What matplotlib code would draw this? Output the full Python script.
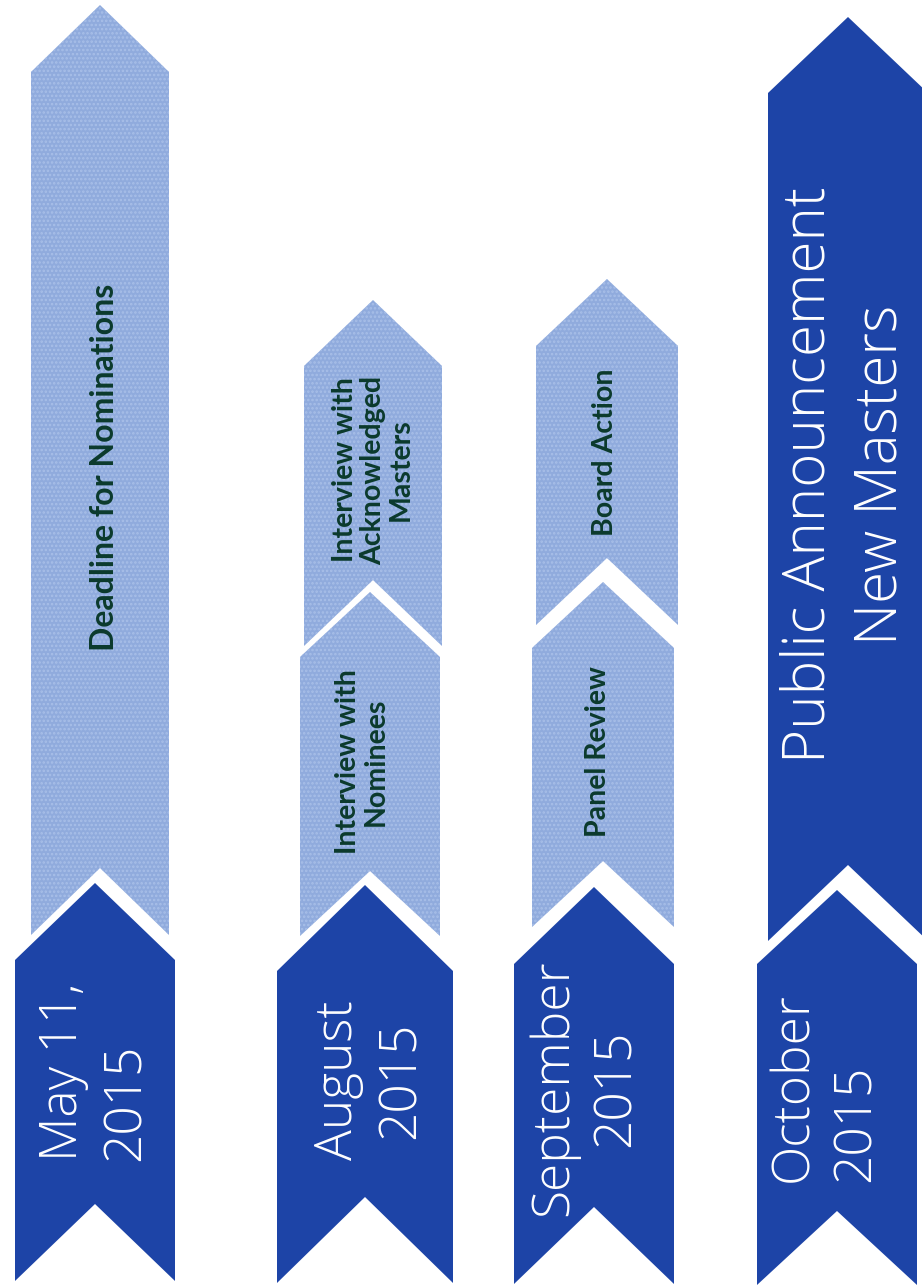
import matplotlib
matplotlib.use("Agg")
import matplotlib.pyplot as plt
from matplotlib.patches import Polygon

# ---- data -------------------------------------------------------------
dates = ["May 11,\n2015", "August\n2015", "September\n2015", "October\n2015"]
date_align = ["left", "center", "center", "left"]
steps_upper = ["Deadline for Nominations",
               "Interview with\nAcknowledged\nMasters",
               "Board Action",
               "Public Announcement\nNew Masters"]
steps_lower = [None, "Interview with\nNominees", "Panel Review", None]

DARK = "#1D44A7"
LIGHT = "#90ABDD"
TEXTURE = "#A8BFE8"
TXT_DARK = "#0B3A2C"

plt.rcParams["hatch.linewidth"] = 1.2

fig = plt.figure(figsize=(9.22, 12.87), dpi=100)
ax = fig.add_axes([0, 0, 1, 1])
ax.set_xlim(0, 922)
ax.set_ylim(1287, 0)
ax.axis("off")


def chevron(xc, hw, top, bottom, depth, color, textured=False):
    """Upward chevron: apex at top, notch at bottom."""
    verts = [(xc, top), (xc + hw, top + depth), (xc + hw, bottom),
             (xc, bottom - depth), (xc - hw, bottom), (xc - hw, top + depth)]
    ax.add_patch(Polygon(verts, closed=True, facecolor=color,
                         edgecolor="none"))
    if textured:
        ax.add_patch(Polygon(verts, closed=True, facecolor="none",
                             edgecolor=TEXTURE, hatch="....", linewidth=0))


# column 1
chevron(100, 69, 5, 935, 67, LIGHT, True)
chevron(95, 80, 883, 1281, 77, DARK)
# column 2
chevron(373, 69, 300, 646, 66, LIGHT, True)
chevron(370, 70, 592, 936, 65, LIGHT, True)
chevron(365, 88, 885, 1283, 86, DARK)
# column 3
chevron(607, 71, 279, 625, 67, LIGHT, True)
chevron(603, 71, 582, 927, 66, LIGHT, True)
chevron(594, 80, 887, 1284, 77, DARK)
# column 4
chevron(848, 80, 17, 941, 76, DARK)
chevron(837, 80, 890, 1285, 74, DARK)

bold_kw = dict(family=["Lato", "DejaVu Sans"], fontweight="bold",
               color=TXT_DARK, rotation=90, ha="center", va="center",
               multialignment="center", linespacing=1.1)
light_kw = dict(family=["Open Sans", "DejaVu Sans"], fontweight="light",
                color="white", rotation=90, ha="center", va="center")

# step texts
ax.text(104, 467, steps_upper[0], fontsize=23, **bold_kw)
ax.text(373, 470, steps_upper[1], fontsize=20.5, **bold_kw)
ax.text(605, 452, steps_upper[2], fontsize=20.5, **bold_kw)
ax.text(845, 475, steps_upper[3], fontsize=42, multialignment="center",
        linespacing=1.3, **light_kw)
ax.text(362, 762, steps_lower[1], fontsize=20.5, **bold_kw)
ax.text(598, 752, steps_lower[2], fontsize=20.5, **bold_kw)

# date texts
date_pos = [(95, 1072), (370, 1080), (585, 1088), (825, 1087)]
for (x, y), lab, al in zip(date_pos, dates, date_align):
    ax.text(x, y, lab, fontsize=37, multialignment=al, linespacing=1.28,
            **light_kw)

fig.savefig("out.png", dpi=100, facecolor="white")
